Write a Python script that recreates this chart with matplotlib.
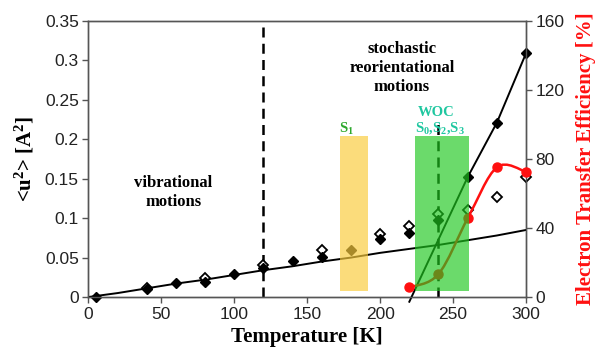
import matplotlib
matplotlib.use("Agg")
import matplotlib.pyplot as plt
from matplotlib.path import Path
from matplotlib.patches import PathPatch, Rectangle

plt.rcParams['font.family'] = ['Liberation Sans', 'DejaVu Sans']
plt.rcParams['mathtext.fontset'] = 'custom'
plt.rcParams['mathtext.rm'] = 'Liberation Serif:bold'
plt.rcParams['mathtext.it'] = 'Liberation Serif:bold'
plt.rcParams['mathtext.bf'] = 'Liberation Serif:bold'

# mean square displacement, filled diamonds
temp_filled = [5, 40, 60, 80, 100, 120, 140, 160, 180, 200, 220, 240, 260, 280, 300]
msd_filled = [0.0, 0.010, 0.018, 0.019, 0.029, 0.037, 0.046, 0.051, 0.060, 0.074,
              0.081, 0.098, 0.152, 0.221, 0.309]

# open diamonds
temp_open = [40, 80, 120, 160, 200, 220, 240, 260, 280, 300]
msd_open = [0.012, 0.024, 0.040, 0.060, 0.080, 0.090, 0.105, 0.110, 0.127, 0.152]

# harmonic (vibrational) fit line
temp_fit = [0, 20, 40, 60, 80, 100, 120, 140, 160, 180, 200, 220, 240, 260, 280, 300]
msd_fit = [0.0, 0.005, 0.011, 0.017, 0.022, 0.028, 0.034, 0.039, 0.045, 0.050,
           0.056, 0.061, 0.066, 0.072, 0.078, 0.085]

# steep line above the dynamical transition
temp_steep = [220, 260, 280, 300]
msd_steep = [-0.006, 0.152, 0.221, 0.309]

# electron transfer efficiency (right axis)
temp_ete = [220, 240, 260, 280, 300]
ete = [5.6, 13.3, 45.6, 75.2, 72.6]

x_ticks = [0, 50, 100, 150, 200, 250, 300]
y_ticks = [0, 0.05, 0.1, 0.15, 0.2, 0.25, 0.3, 0.35]
y_labels = ['0', '0.05', '0.1', '0.15', '0.2', '0.25', '0.3', '0.35']
y2_ticks = [0, 40, 80, 120, 160]

serif = ['Liberation Serif', 'DejaVu Serif']
spine_col = '#555555'

fig = plt.figure(figsize=(6.09, 3.63), dpi=100)
ax = fig.add_axes([0.1453, 0.1818, 0.7184, 0.7603])
ax2 = ax.twinx()

ax.set_xlim(0, 300)
ax.set_ylim(0, 0.35)
ax2.set_ylim(0, 160)

ax.plot(temp_fit, msd_fit, color='black', lw=1.4, zorder=3)
ax.plot(temp_steep, msd_steep, color='black', lw=1.4, zorder=3, clip_on=False)
ax.plot(temp_open, msd_open, 'D', ms=5.5, mfc='white', mec='black', mew=1.3, zorder=4,
        clip_on=False)
ax.plot(temp_filled, msd_filled, 'D', ms=5.5, color='black', zorder=5, clip_on=False)

ax.axvline(120, color='black', lw=1.8, ls=(0, (4, 2.5)), zorder=2)
ax.plot([240, 240], [0, 0.225], color='black', lw=1.8, ls=(0, (4, 2.5)), zorder=2)

# smoothed red curve (Catmull-Rom as cubic Bezier)
pts = list(zip(temp_ete, ete))
verts = [pts[0]]
codes = [Path.MOVETO]
for i in range(len(pts) - 1):
    p0 = pts[i - 1] if i > 0 else pts[i]
    p1 = pts[i]
    p2 = pts[i + 1]
    p3 = pts[i + 2] if i + 2 < len(pts) else pts[i + 1]
    c1 = (p1[0] + (p2[0] - p0[0]) / 6, p1[1] + (p2[1] - p0[1]) / 6)
    c2 = (p2[0] - (p3[0] - p1[0]) / 6, p2[1] - (p3[1] - p1[1]) / 6)
    verts += [c1, c2, p2]
    codes += [Path.CURVE4] * 3
ax2.add_patch(PathPatch(Path(verts, codes), fc='none', ec='#ff1010', lw=1.8, zorder=3,
                        clip_on=False))
ax2.plot(temp_ete, ete, 'o', ms=6.5, color='#ff1010', zorder=4, clip_on=False)

# S-state bands, drawn on top
ax2.add_patch(Rectangle((172.5, 3.6), 19.2, 89.5, fc=(0.98, 0.80, 0.24), alpha=0.68,
                        lw=0, zorder=10))
ax2.add_patch(Rectangle((224, 3.6), 37, 89.5, fc=(0.12, 0.78, 0.12), alpha=0.66,
                        lw=0, zorder=10))

ax.text(58, 0.132, 'vibrational\nmotions', family=serif, fontweight='bold', fontsize=12,
        ha='center', va='center', linespacing=1.25)
ax.text(215, 0.290, 'stochastic\nreorientational\nmotions', family=serif, fontweight='bold',
        fontsize=12, ha='center', va='center', linespacing=1.25)
ax.text(238.5, 0.2346, 'WOC', family=serif, fontweight='bold', fontsize=10.5,
        color='#1fc7a0', ha='center', va='center')
ax.text(240.7, 0.214, 'S$_0$,S$_2$,S$_3$', family=serif, fontweight='bold', fontsize=10.5,
        color='#1fc7a0', ha='center', va='center')
ax.text(177, 0.213, 'S$_1$', family=serif, fontweight='bold', fontsize=10.5,
        color='#2ea82e', ha='center', va='center')

ax.set_xticks(x_ticks)
ax.set_yticks(y_ticks)
ax.set_yticklabels(y_labels)
ax2.set_yticks(y2_ticks)
ax.tick_params(direction='out', length=4, width=1, color=spine_col, labelsize=12.5, pad=3,
               labelcolor='#222222')
ax2.tick_params(direction='out', length=4, width=1, color=spine_col, labelsize=12.5, pad=3,
                labelcolor='#222222')
for a in (ax, ax2):
    for s in a.spines.values():
        s.set_color(spine_col)
        s.set_linewidth(1)

ax.set_xlabel('Temperature [K]', family=serif, fontweight='bold', fontsize=15, labelpad=4)
ax.set_ylabel('<u$^2$> [A$^2$]', family=serif, fontweight='bold', fontsize=15, labelpad=6)
ax2.set_ylabel('Electron Transfer Efficiency [%]', family=serif, fontweight='bold',
               fontsize=15, color='#ff1010', labelpad=8)

fig.savefig('out.png', dpi=100)
